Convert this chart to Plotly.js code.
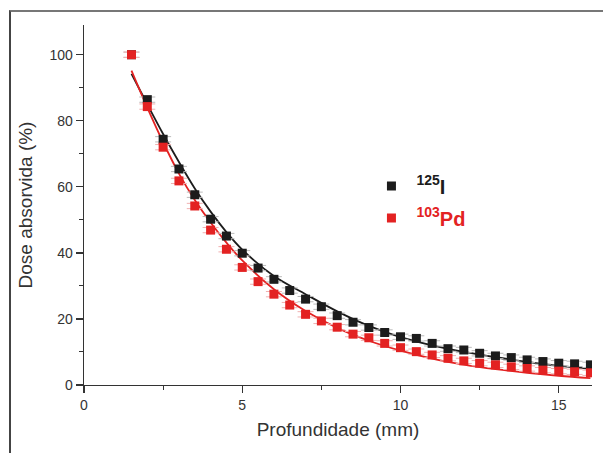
<!DOCTYPE html>
<html>
<head>
<meta charset="utf-8">
<script src="https://cdn.plot.ly/plotly-3.0.1.min.js"></script>
<style>
html,body{margin:0;padding:0;background:#fff;}
#chart{width:603px;height:453px;}
#frame{position:absolute;left:9px;top:10px;width:700px;height:500px;border-top:2px solid #777;border-left:2px solid #444;pointer-events:none;}
</style>
</head>
<body>
<div id="chart"></div>
<div id="frame"></div>
<script>
// Depth (mm)
const depth = [1.5, 2, 2.5, 3, 3.5, 4, 4.5, 5, 5.5, 6, 6.5, 7, 7.5, 8, 8.5, 9, 9.5, 10, 10.5, 11, 11.5, 12, 12.5, 13, 13.5, 14, 14.5, 15, 15.5, 16];
// Measured absorbed dose (%)
const doseI125 = [100, 86.4, 74.4, 65.4, 57.6, 50.2, 45.1, 39.9, 35.4, 32.0, 28.6, 26.0, 23.7, 21.0, 19.0, 17.4, 15.9, 14.6, 14.1, 12.6, 11.0, 10.6, 9.6, 8.8, 8.3, 7.6, 7.1, 6.6, 6.4, 6.1];
const dosePd103 = [100, 84.3, 72.0, 61.8, 54.2, 46.9, 41.1, 35.6, 31.3, 27.5, 24.2, 21.4, 19.4, 17.5, 15.4, 14.3, 12.6, 11.3, 10.1, 9.1, 8.1, 7.3, 6.6, 6.1, 5.5, 5.0, 4.5, 4.2, 4.0, 3.7];
// Fitted curves
const fitDepth = [1.5, 2, 2.5, 3, 3.5, 4, 4.5, 5, 6, 7, 8, 9, 10, 11, 12, 13, 14, 15, 16];
const fitI125 = [94.2, 85.0, 76.0, 67.5, 59.5, 52.5, 46.3, 41.0, 33.0, 27.5, 22.3, 17.9, 14.5, 12.0, 10.0, 8.4, 7.0, 5.8, 4.9];
const fitPd103 = [95.2, 84.0, 73.5, 64.0, 56.0, 49.2, 43.1, 37.7, 29.0, 22.4, 17.3, 13.4, 10.4, 8.0, 6.2, 4.8, 3.7, 2.8, 2.1];
const seriesNames = ['<sup>125</sup>I', '<span style="color:#e32222"><sup>103</sup>Pd</span>'];
const xTicks = [0, 5, 10, 15];
const yTicks = [0, 20, 40, 60, 80, 100];

const black = '#1c1c1c';
const red = '#e32222';

const traces = [
  {x: fitDepth, y: fitI125, mode: 'lines', line: {color: black, width: 1.8, shape: 'spline'}, showlegend: false, hoverinfo: 'skip'},
  {x: fitDepth, y: fitPd103, mode: 'lines', line: {color: red, width: 1.8, shape: 'spline'}, showlegend: false, hoverinfo: 'skip'},
  {x: depth, y: doseI125, mode: 'markers', name: seriesNames[0], legendgroup: 'a',
   marker: {symbol: 'square', size: 9, color: black},
   error_y: {type: 'constant', value: 0.8, width: 8, thickness: 1, color: '#bbbbbb'}},
  {x: depth, y: dosePd103, mode: 'markers', name: seriesNames[1], legendgroup: 'b',
   marker: {symbol: 'square', size: 9, color: red},
   error_y: {type: 'constant', value: 0.8, width: 8, thickness: 1, color: '#f0b0b0'}}
];

const layout = {
  width: 603, height: 453,
  margin: {l: 84, r: 11, t: 25, b: 68},
  paper_bgcolor: '#fff', plot_bgcolor: '#fff',
  font: {family: 'Liberation Sans, Arial, sans-serif', color: '#333', size: 14},
  showlegend: true,
  legend: {x: 0.556, y: 0.607, xanchor: 'left', yanchor: 'top', traceorder: 'grouped', tracegroupgap: 3,
           itemwidth: 40,
           font: {size: 20, color: '#1c1c1c', family: 'Liberation Sans, Arial, sans-serif', weight: 'bold'},
           bgcolor: 'rgba(0,0,0,0)'},
  xaxis: {range: [0, 16.05], tickvals: xTicks, ticktext: xTicks.map(String),
          showgrid: false, zeroline: false, showline: true, linecolor: '#333', linewidth: 1.3,
          ticks: 'outside', ticklen: 7, tickwidth: 1.3, tickcolor: '#333',
          minor: {ticks: 'outside', ticklen: 4, tickwidth: 1, tickcolor: '#333', tickvals: [2.5, 7.5, 12.5]},
          title: {text: 'Profundidade (mm)', font: {size: 19, color: '#333'}, standoff: 10}},
  yaxis: {range: [0, 109], tickvals: yTicks, ticktext: yTicks.map(String),
          showgrid: false, zeroline: false, showline: true, linecolor: '#333', linewidth: 1.3,
          ticks: 'outside', ticklen: 7, tickwidth: 1.3, tickcolor: '#333',
          minor: {ticks: 'outside', ticklen: 4, tickwidth: 1, tickcolor: '#333', tickvals: [10, 30, 50, 70, 90]},
          title: {text: 'Dose absorvida (%)', font: {size: 19, color: '#333'}, standoff: 12}}
};

Plotly.newPlot('chart', traces, layout, {displayModeBar: false, staticPlot: true});
</script>
</body>
</html>
